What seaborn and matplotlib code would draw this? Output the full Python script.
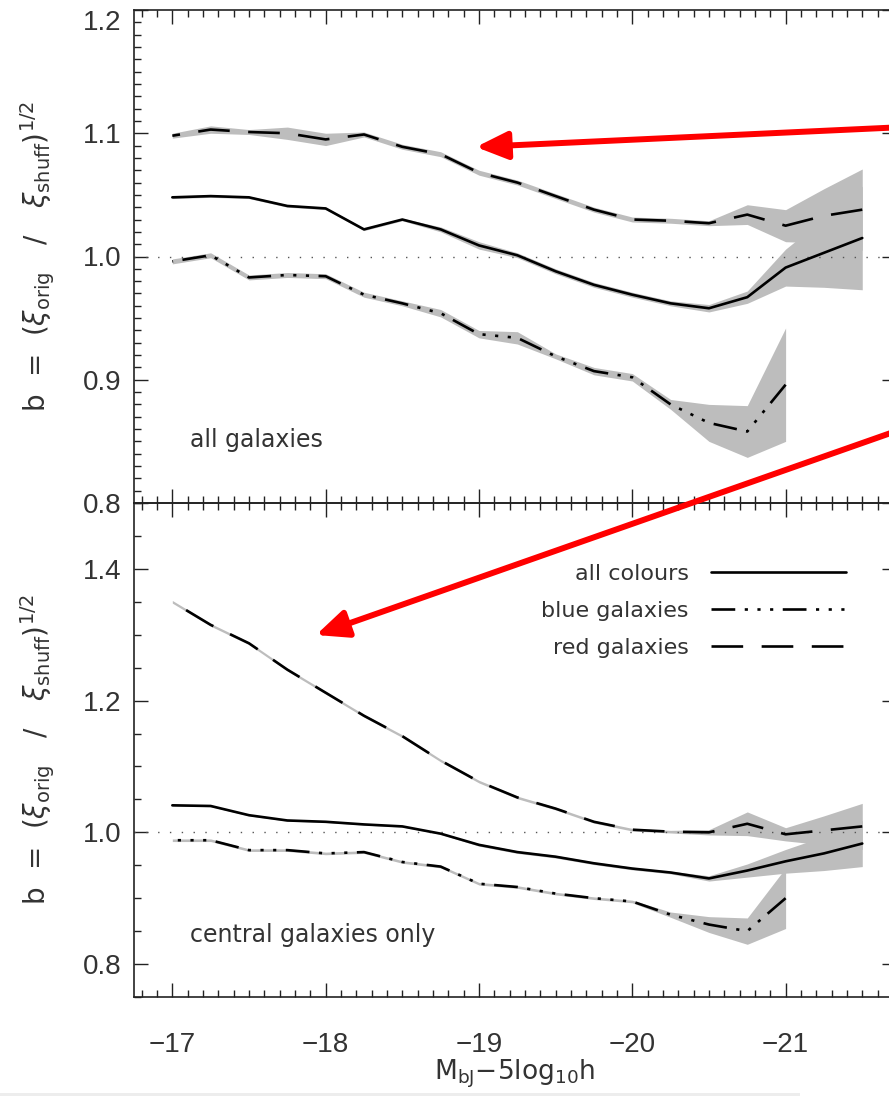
import numpy as np
import pandas as pd
import matplotlib
matplotlib.use("Agg")
import matplotlib.pyplot as plt
import seaborn as sns
from matplotlib.ticker import MultipleLocator
from matplotlib.patches import Rectangle, FancyArrowPatch

# ---------------- data ----------------
mag_all = [-17.0, -17.25, -17.5, -17.75, -18.0, -18.25, -18.5, -18.75, -19.0, -19.25,
           -19.5, -19.75, -20.0, -20.25, -20.5, -20.75, -21.0, -21.25, -21.5]
mag_blue = mag_all[:17]

# top panel: all galaxies
top_all = [1.048, 1.049, 1.048, 1.041, 1.039, 1.022, 1.030, 1.022, 1.009, 1.001,
           0.988, 0.977, 0.969, 0.962, 0.958, 0.967, 0.991, 1.003, 1.015]
top_all_err = [0.001, 0.001, 0.001, 0.001, 0.001, 0.001, 0.001, 0.002, 0.003, 0.002,
               0.002, 0.002, 0.002, 0.002, 0.003, 0.005, 0.015, 0.028, 0.042]
top_red = [1.098, 1.103, 1.101, 1.100, 1.095, 1.099, 1.089, 1.083, 1.068, 1.060,
           1.049, 1.038, 1.030, 1.029, 1.027, 1.034, 1.025, 1.033, 1.038]
top_red_err = [0.002, 0.003, 0.002, 0.005, 0.005, 0.002, 0.002, 0.002, 0.002, 0.002,
               0.002, 0.002, 0.002, 0.002, 0.002, 0.008, 0.013, 0.022, 0.033]
top_blue = [0.996, 1.001, 0.983, 0.985, 0.984, 0.969, 0.962, 0.954, 0.937, 0.934,
            0.919, 0.907, 0.902, 0.880, 0.865, 0.858, 0.896]
top_blue_err = [0.002, 0.002, 0.002, 0.002, 0.002, 0.002, 0.002, 0.003, 0.003, 0.005,
                0.002, 0.003, 0.003, 0.004, 0.015, 0.021, 0.046]

# bottom panel: central galaxies only
bot_all = [1.041, 1.040, 1.026, 1.018, 1.016, 1.012, 1.009, 0.998, 0.981, 0.970,
           0.963, 0.953, 0.945, 0.939, 0.930, 0.942, 0.956, 0.968, 0.983]
bot_all_err = [0.001, 0.001, 0.001, 0.001, 0.001, 0.001, 0.001, 0.001, 0.002, 0.002,
               0.002, 0.002, 0.002, 0.002, 0.004, 0.010, 0.018, 0.026, 0.035]
bot_red = [1.350, 1.315, 1.287, 1.247, 1.212, 1.177, 1.146, 1.109, 1.077, 1.053,
           1.036, 1.016, 1.004, 1.001, 1.000, 1.013, 0.997, 1.003, 1.009]
bot_red_err = [0.002, 0.002, 0.002, 0.002, 0.002, 0.002, 0.002, 0.002, 0.002, 0.002,
               0.002, 0.002, 0.002, 0.002, 0.004, 0.018, 0.010, 0.022, 0.035]
bot_blue = [0.988, 0.988, 0.973, 0.973, 0.968, 0.970, 0.955, 0.948, 0.922, 0.917,
            0.907, 0.900, 0.895, 0.875, 0.860, 0.850, 0.900]
bot_blue_err = [0.002, 0.002, 0.002, 0.002, 0.002, 0.002, 0.002, 0.002, 0.002, 0.002,
                0.002, 0.002, 0.002, 0.004, 0.012, 0.020, 0.046]

series_labels = ["all colours", "blue galaxies", "red galaxies"]
panel_labels = ["all galaxies", "central galaxies only"]
xtick_vals = [-17, -18, -19, -20, -21]

# ---------------- style ----------------
sns.set_theme(style="ticks")
plt.rcParams["font.family"] = ["DejaVu Sans"]
plt.rcParams["mathtext.fontset"] = "dejavusans"

W, H = 889, 1096
fig = plt.figure(figsize=(W / 100, H / 100), dpi=100)
fig.patch.set_facecolor("white")

left = 134 / W
width = 762 / W
ax_top = fig.add_axes([left, 1 - 503 / H, width, 493 / H])
ax_bot = fig.add_axes([left, 1 - 997 / H, width, 494 / H])

LW = 1.9
dash_red = (0, (12.0, 7.0))
dash_blue = (0, (9.0, 3.6, 1.2, 3.6, 1.2, 3.6, 1.2, 3.6))
band = "#bdbdbd"
ink = "#333333"
TICKFONT = "Liberation Sans"


def draw_panel(ax, allv, alle, redv, rede, bluev, bluee):
    xa = np.array(mag_all)
    xb = np.array(mag_blue)
    for x, v, e in [(xa, allv, alle), (xa, redv, rede), (xb, bluev, bluee)]:
        v = np.array(v)
        e = np.array(e)
        ax.fill_between(x, v - e, v + e, color=band, lw=0, zorder=1)
    ax.axhline(1.0, color="#555555", lw=1.0, linestyle=(0, (1, 7.5)), zorder=2)
    df_all = pd.DataFrame({"mag": mag_all, "b": allv})
    df_red = pd.DataFrame({"mag": mag_all, "b": redv})
    df_blue = pd.DataFrame({"mag": mag_blue, "b": bluev})
    sns.lineplot(data=df_all, x="mag", y="b", ax=ax, color="black", lw=LW,
                 label=series_labels[0], zorder=3)
    sns.lineplot(data=df_blue, x="mag", y="b", ax=ax, color="black", lw=LW,
                 linestyle=dash_blue, label=series_labels[1], zorder=3)
    sns.lineplot(data=df_red, x="mag", y="b", ax=ax, color="black", lw=LW,
                 linestyle=dash_red, label=series_labels[2], zorder=3)
    ax.set_xlim(-16.75, -21.72)
    ax.set_facecolor("none")
    for s in ax.spines.values():
        s.set_linewidth(1.2)
        s.set_color("#222222")
    ax.xaxis.set_major_locator(MultipleLocator(1))
    ax.xaxis.set_minor_locator(MultipleLocator(0.1))
    ax.tick_params(which="both", direction="in", top=True, right=True,
                   colors="#222222", labelcolor=ink, labelsize=20, width=1.0)
    ax.tick_params(which="major", length=10)
    ax.tick_params(axis="y", which="major", pad=9)
    ax.tick_params(axis="x", which="major", pad=25)
    ax.tick_params(which="minor", length=5)
    ax.set_ylabel(r"b  =  $(\xi_{\rm orig}\ \ \ /\ \ \ \xi_{\rm shuff})^{1/2}$",
                  fontsize=20, color=ink)
    ax.yaxis.set_label_coords(-0.101, 0.5)


draw_panel(ax_top, top_all, top_all_err, top_red, top_red_err, top_blue, top_blue_err)
draw_panel(ax_bot, bot_all, bot_all_err, bot_red, bot_red_err, bot_blue, bot_blue_err)

ax_top.set_ylim(0.8, 1.2)
ax_top.set_yticks([0.8, 0.9, 1.0, 1.1, 1.2])
ax_top.set_yticklabels(["0.8", "0.9", "1.0", "1.1", "1.2"])
ax_top.yaxis.set_minor_locator(MultipleLocator(0.01))
ax_top.set_xticks(xtick_vals)
ax_top.tick_params(axis="x", labelbottom=False)
ax_top.set_xlabel("")
ax_top.get_legend().remove()

ax_bot.set_ylim(0.75, 1.5)
ax_bot.set_yticks([0.8, 1.0, 1.2, 1.4])
ax_bot.set_yticklabels(["0.8", "1.0", "1.2", "1.4"])
ax_bot.yaxis.set_minor_locator(MultipleLocator(0.05))
ax_bot.set_xticks(xtick_vals)
ax_bot.set_xticklabels([str(v).replace("-", "\u2212") for v in xtick_vals])
ax_bot.set_xlabel(r"M$_{\rm bJ}$$-$5log$_{10}$h", fontsize=19, color=ink, labelpad=0)

for ax in (ax_top, ax_bot):
    for lab in ax.get_xticklabels() + ax.get_yticklabels():
        lab.set_fontfamily(TICKFONT)
ax_top.get_yticklabels()[-1].set_va("top")

ax_top.text(0.0735, 0.128, panel_labels[0], transform=ax_top.transAxes,
            fontsize=17, color=ink, va="center", ha="left")
ax_bot.text(0.0735, 0.1255, panel_labels[1], transform=ax_bot.transAxes,
            fontsize=17, color=ink, va="center", ha="left")

leg = ax_bot.legend(loc="upper right", bbox_to_anchor=(0.935, 0.876),
                    markerfirst=False, frameon=False, fontsize=16,
                    handlelength=6.1, handletextpad=1.0, labelspacing=0.75,
                    borderpad=0, borderaxespad=0)
for t in leg.get_texts():
    t.set_color(ink)

# red annotation arrows
arrow_style = "-|>,head_length=0.95,head_width=0.42"
fig.add_artist(FancyArrowPatch(
    (905, H - 127), (476, H - 147), transform=None, arrowstyle=arrow_style,
    mutation_scale=20, color="#ff0000", lw=4.3, shrinkA=0, shrinkB=0, zorder=10))
fig.add_artist(FancyArrowPatch(
    (905, H - 428), (316, H - 635), transform=None, arrowstyle=arrow_style,
    mutation_scale=20, color="#ff0000", lw=4.3, shrinkA=0, shrinkB=0, zorder=10))

fig.add_artist(Rectangle((0, 0), 800 / W, 3 / H, transform=fig.transFigure,
                         color="#ededed", lw=0, zorder=0))

fig.savefig("out.png", dpi=100, facecolor="white")
